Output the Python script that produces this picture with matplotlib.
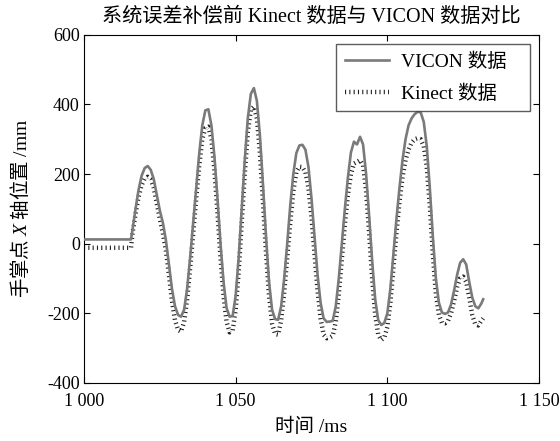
import numpy as np
import matplotlib.pyplot as plt

plt.rcParams['font.family'] = ['Liberation Serif', 'Noto Sans CJK SC']
plt.rcParams['mathtext.fontset'] = 'custom'
plt.rcParams['mathtext.rm'] = 'Liberation Serif'
plt.rcParams['mathtext.it'] = 'Liberation Serif:italic'
plt.rcParams['axes.unicode_minus'] = False
plt.rcParams['lines.scale_dashes'] = False

# 时间轴 (ms)
t = np.concatenate([[1000, 1015.5], np.arange(1016, 1132), [1131.6]])

# VICON 数据 (mm)
vicon = [12, 12,
         40, 100, 155, 195, 217, 223, 212, 185, 140, 95,
         60, 10, -60, -130, -180, -205, -210, -190, -130, -40,
         60, 160, 260, 340, 383, 386, 340, 250, 130, 0,
         -110, -185, -210, -208, -150, -40, 100, 240, 360, 430,
         447, 410, 310, 170, 20, -110, -190, -217, -219, -180,
         -100, 0, 110, 200, 260, 282, 284, 270, 220, 130,
         20, -90, -170, -215, -225, -224, -222, -180, -100, 0,
         100, 190, 262, 293, 285, 307, 285, 200, 80, -50,
         -160, -220, -234, -228, -200, -130, -30, 70, 160, 240,
         300, 340, 360, 372, 379, 377, 350, 280, 160, 20,
         -100, -170, -198, -202, -198, -175, -135, -90, -55, -45,
         -60, -110, -155, -180, -186, -172,
         -160]

# Kinect 数据 (mm)
kinect = [-12, -12,
          30, 85, 135, 168, 187, 192, 185, 160, 115, 70,
          30, -20, -90, -165, -220, -248, -253, -225, -160, -70,
          30, 130, 225, 300, 332, 336, 300, 210, 90, -40,
          -150, -225, -255, -250, -190, -80, 60, 200, 320, 385,
          394, 360, 260, 120, -25, -150, -230, -260, -262, -220,
          -140, -40, 60, 150, 205, 221, 220, 205, 160, 75,
          -30, -135, -215, -262, -272, -270, -265, -225, -145, -45,
          55, 140, 200, 230, 235, 240, 225, 150, 30, -100,
          -205, -262, -277, -270, -240, -170, -70, 30, 120, 190,
          240, 270, 290, 300, 303, 300, 280, 220, 110, -30,
          -145, -205, -228, -229, -222, -200, -165, -125, -100, -95,
          -110, -155, -205, -232, -235, -222,
          -215]

xticks = [1000, 1050, 1100, 1150]
xticklabels = ['1 000', '1 050', '1 100', '1 150']
yticks = [-400, -200, 0, 200, 400, 600]

fig = plt.figure(figsize=(5.6, 4.41), dpi=100)
ax = fig.add_axes([0.15, 0.132, 0.8125, 0.789])

ln_k, = ax.plot(t, kinect, color='#222222', linewidth=3.2, dashes=(0.8, 2.3),
                dash_capstyle='butt', label='Kinect 数据   ', zorder=2)
ln_v, = ax.plot(t, vicon, color='#7a7a7a', linewidth=1.9, label='VICON 数据   ', zorder=3)

ax.set_xlim(1000, 1150)
ax.set_ylim(-400, 600)
ax.set_xticks(xticks)
ax.set_xticklabels(xticklabels)
ax.set_yticks(yticks)
ax.tick_params(direction='in', top=True, right=True, length=4, labelsize=13)
ax.tick_params(axis='x', pad=7)
ax.tick_params(axis='y', pad=3)

ax.set_title('系统误差补偿前 Kinect 数据与 VICON 数据对比', fontsize=14.5, pad=9)
ax.set_xlabel('时间 /ms', fontsize=14, labelpad=6)
ax.set_ylabel(r'手掌点 $X$ 轴位置 $\mathrm{/mm}$', fontsize=14, labelpad=11,
              family='Noto Sans CJK SC')

leg = ax.legend(handles=[ln_v, ln_k], loc='upper right', fontsize=14, frameon=True,
                fancybox=False, edgecolor='#333333', borderaxespad=0.45,
                borderpad=0.45, handlelength=2.3, handletextpad=0.6, labelspacing=0.7)
leg.get_frame().set_linewidth(1.0)

fig.savefig('out.png', dpi=100)
